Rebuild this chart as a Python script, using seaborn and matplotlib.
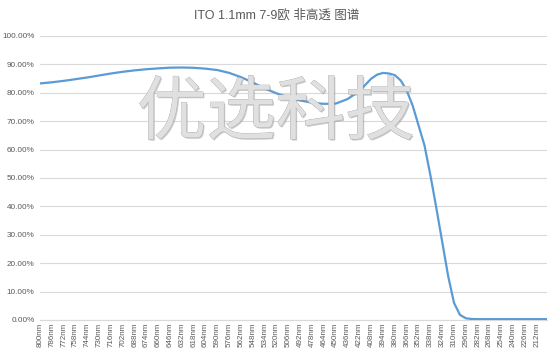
import matplotlib
matplotlib.use("Agg")
import matplotlib.pyplot as plt
import matplotlib.patheffects as pe
import seaborn as sns
import pandas as pd
import numpy as np

# data
wavelengths = [800, 786, 772, 758, 744, 730, 716, 702, 688, 674, 660, 646, 632, 618,
               604, 590, 576, 562, 548, 534, 520, 506, 492, 478, 464, 450, 436, 422,
               408, 401, 394, 387, 380, 373, 366, 359, 352, 345, 338, 331, 324, 317,
               310, 303, 296, 289, 282, 268, 254, 240, 226, 212, 200]
transmittance = [83.3, 83.7, 84.2, 84.8, 85.4, 86.1, 86.8, 87.4, 87.9, 88.3, 88.6, 88.85, 88.9, 88.8,
                 88.5, 88.0, 87.0, 85.5, 83.6, 81.5, 79.8, 78.4, 77.3, 76.5, 76.1, 76.2, 77.8, 80.6,
                 85.0, 86.4, 87.0, 86.8, 86.2, 84.3, 80.8, 75.5, 68.5, 61.5, 51.0, 39.5, 27.5, 15.5,
                 6.0, 1.8, 0.6, 0.35, 0.3, 0.3, 0.3, 0.3, 0.3, 0.3, 0.3]
tick_wavelengths = list(range(800, 211, -14))
tick_labels = [f"{w}nm" for w in tick_wavelengths]
title = "ITO 1.1mm 7-9欧 非高透 图谱"
watermark = "优选科技"

df = pd.DataFrame({"wl": wavelengths, "t": np.array(transmittance) / 100.0})

sns.set_theme(style="white")
plt.rcParams['font.family'] = ['Liberation Sans', 'Noto Sans CJK SC', 'DejaVu Sans']

fig = plt.figure(figsize=(5.54, 3.58), dpi=100)
ax = fig.add_axes([40/554, 1-320/358, (547-40)/554, (320-36)/358])

sns.lineplot(data=df, x="wl", y="t", ax=ax, color="#5b9bd5", linewidth=1.6, zorder=3)

ax.set_xlim(800, 200)
ax.set_ylim(0, 1.0)
ax.set_yticks(np.arange(0, 1.01, 0.1))
ax.set_yticklabels([f"{v*100:.2f}%" for v in np.arange(0, 1.01, 0.1)], fontsize=5.9, color="#595959")
ax.set_xticks(tick_wavelengths)
ax.set_xticklabels(tick_labels, rotation=90, fontsize=5.8, color="#595959")
ax.tick_params(axis='both', length=0)
ax.tick_params(axis='y', pad=4)
ax.tick_params(axis='x', pad=2)
ax.grid(axis='y', color="#d9d9d9", linewidth=0.8)
ax.grid(axis='x', visible=False)
for s in ['top', 'right', 'left']:
    ax.spines[s].set_visible(False)
ax.spines['bottom'].set_color("#d9d9d9")
ax.spines['bottom'].set_linewidth(0.8)
ax.set_xlabel("")
ax.set_ylabel("")

fig.text(0.5, 1-15/358, title, ha='center', va='center', fontsize=9, color="#595959")

fig.text(276/554, 1-114/358, watermark, ha='center', va='center', fontsize=50,
         color="#e0e0e0", family=['Noto Sans CJK SC'], zorder=2,
         path_effects=[pe.withSimplePatchShadow(offset=(1.0, -1.0), shadow_rgbFace="#8a8a8a", alpha=0.45),
                       pe.Stroke(linewidth=0.5, foreground="#a8a8a8"), pe.Normal()])

fig.savefig("out.png", dpi=100)
